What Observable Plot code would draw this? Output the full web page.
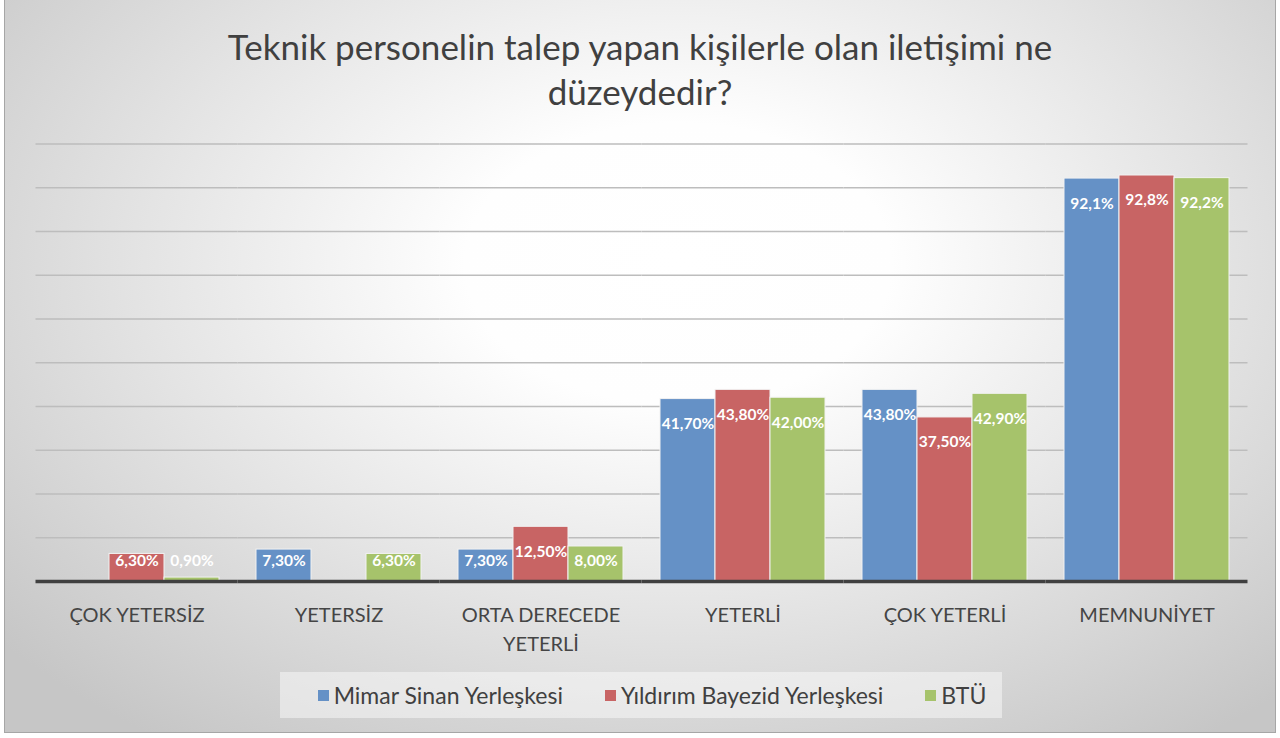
<!DOCTYPE html>
<html><head><meta charset="utf-8">
<script src="https://cdn.jsdelivr.net/npm/d3@7"></script>
<script src="https://cdn.jsdelivr.net/npm/@observablehq/plot@0.6"></script>
<style>
body{margin:0;background:#fff;}
#frame{position:relative;width:1280px;height:738px;overflow:hidden;font-family:Lato, "Open Sans", sans-serif;}
#bg{position:absolute;left:4px;top:-1px;width:1272px;height:734px;border:1px solid #a6a6a6;box-sizing:border-box;
 background:radial-gradient(ellipse 70% 80% at 53% 36%, #ffffff 0%, #fefefe 24%, #e4e4e4 60%, #c6c6c6 100%);}
#title{position:absolute;top:24px;left:0;width:1280px;text-align:center;font-size:35px;line-height:45px;color:#404040;}
#chart{position:absolute;left:0;top:130px;}
#legend{position:absolute;left:280px;top:672px;width:722px;height:46px;box-sizing:border-box;padding-left:22px;background:rgba(255,255,255,0.45);display:flex;align-items:center;justify-content:center;gap:42px;font-size:23px;color:#404040;white-space:nowrap;}
.item{display:flex;align-items:center;flex-shrink:0;}
.sw{width:11px;height:11px;margin-right:5px;flex-shrink:0;}
</style></head>
<body>
<div id="frame">
  <div id="bg"></div>
  <div id="title">Teknik personelin talep yapan kişilerle olan iletişimi ne<br>düzeydedir?</div>
  <div id="chart"></div>
  <div id="legend"></div>
</div>
<script>
const categories = ["ÇOK YETERSİZ","YETERSİZ","ORTA DERECEDE YETERLİ","YETERLİ","ÇOK YETERLİ","MEMNUNİYET"];
const tickLabels = ["ÇOK YETERSİZ","YETERSİZ","ORTA DERECEDE\nYETERLİ","YETERLİ","ÇOK YETERLİ","MEMNUNİYET"];
const series = ["Mimar Sinan Yerleşkesi","Yıldırım Bayezid Yerleşkesi","BTÜ"];
const mimarSinan = [null, 7.3, 7.3, 41.7, 43.8, 92.1];
const yildirimBayezid = [6.3, null, 12.5, 43.8, 37.5, 92.8];
const btu = [0.9, 6.3, 8.0, 42.0, 42.9, 92.2];
const decimals = [2, 2, 2, 2, 2, 1];
const gridTicks = [10, 20, 30, 40, 50, 60, 70, 80, 90, 100];
const colors = ["#6591c6", "#c86464", "#a6c36b"];

const seriesValues = [mimarSinan, yildirimBayezid, btu];
const data = [];
categories.forEach((c, i) => seriesValues.forEach((arr, j) => {
  if (arr[i] != null) data.push({category: c, series: series[j], value: arr[i],
    label: arr[i].toFixed(decimals[i]).replace(".", ",") + "%"});
}));

const W = 1280, ML = 35, MR = 32, PI = 0.183;
const step = (W - ML - MR) / categories.length;
const half = step * PI / 2;

const chart = Plot.plot({
  width: W, height: 540,
  marginLeft: ML, marginRight: MR, marginTop: 13.5, marginBottom: 89,
  style: {background: "transparent", overflow: "visible", fontFamily: "Lato, 'Open Sans', sans-serif"},
  fx: {domain: categories, paddingInner: PI, paddingOuter: PI / 2, axis: null, label: null},
  x: {domain: series, padding: 0, axis: null},
  y: {domain: [0, 100], axis: null},
  color: {domain: series, range: colors},
  marks: [
    Plot.ruleY(gridTicks, {stroke: "#bdbdbd", strokeWidth: 1.5, insetLeft: -half, insetRight: -half}),
    Plot.barY(data, {fx: "category", x: "series", y: "value", fill: "series", stroke: "#f2f2f2", strokeWidth: 1}),
    Plot.ruleY([0], {stroke: "#404040", strokeWidth: 3.5, insetLeft: -half, insetRight: -half}),
    Plot.text(data, {fx: "category", x: "series", y: d => Math.max(d.value, 10.3), dy: 25, text: "label",
      fill: "white", fontWeight: "bold", fontSize: 15.5}),
    Plot.text(categories, {fx: d => d, text: (d, i) => tickLabels[i], frameAnchor: "bottom", lineAnchor: "top",
      dy: 20, fontSize: 20, fill: "#454545", lineHeight: 1.45})
  ]
});
document.getElementById("chart").appendChild(chart);

const legend = document.getElementById("legend");
series.forEach((s, i) => {
  const it = document.createElement("div"); it.className = "item";
  const sw = document.createElement("div"); sw.className = "sw"; sw.style.background = colors[i];
  const t = document.createElement("span"); t.textContent = s;
  it.appendChild(sw); it.appendChild(t); legend.appendChild(it);
});
</script>
</body></html>
